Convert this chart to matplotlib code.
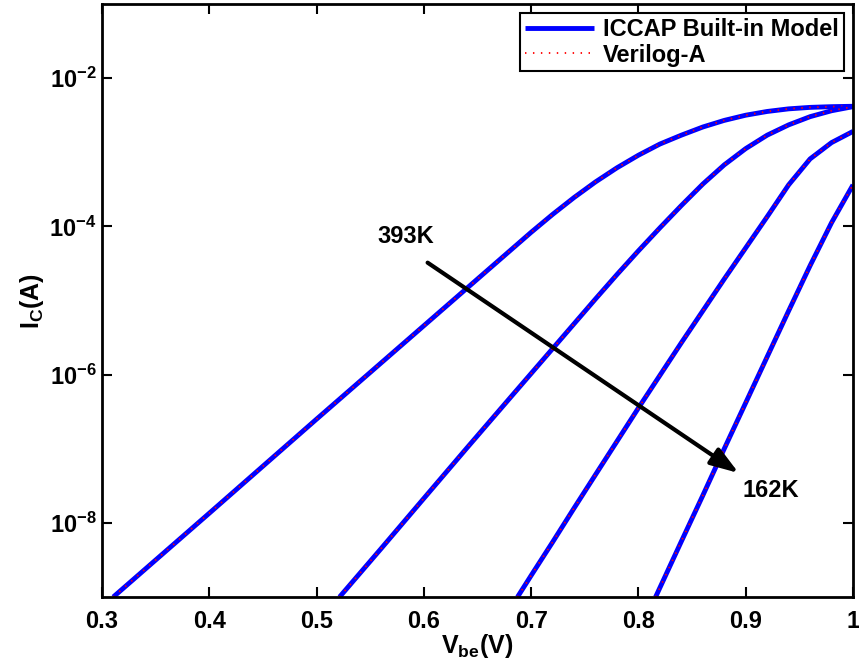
import numpy as np
import matplotlib.pyplot as plt

plt.rcParams['font.family'] = ['Liberation Sans', 'DejaVu Sans']
plt.rcParams['font.weight'] = 'bold'
plt.rcParams['mathtext.fontset'] = 'custom'
plt.rcParams['mathtext.rm'] = 'Liberation Sans:bold'
plt.rcParams['mathtext.it'] = 'Liberation Sans:bold'
plt.rcParams['mathtext.bf'] = 'Liberation Sans:bold'

# Gummel curves, Ic vs Vbe at four temperatures (393K down to 162K)
vbe_393 = [0.3105, 0.40, 0.50, 0.60, 0.65, 0.70, 0.72, 0.74, 0.76, 0.78, 0.80,
           0.82, 0.84, 0.86, 0.88, 0.90, 0.92, 0.94, 0.96, 0.98, 1.00]
ic_393 = [1.0e-9, 1.35e-8, 2.51e-7, 4.57e-6, 1.95e-5, 8.32e-5, 1.45e-4, 2.45e-4,
          3.98e-4, 6.17e-4, 9.12e-4, 1.29e-3, 1.70e-3, 2.19e-3, 2.69e-3, 3.16e-3,
          3.55e-3, 3.85e-3, 4.03e-3, 4.12e-3, 4.17e-3]

vbe_300 = [0.5214, 0.56, 0.60, 0.64, 0.68, 0.72, 0.76, 0.78, 0.80, 0.82, 0.84,
           0.86, 0.88, 0.90, 0.92, 0.94, 0.96, 0.98, 1.00]
ic_300 = [1.0e-9, 4.47e-9, 2.14e-8, 1.02e-7, 4.79e-7, 2.24e-6, 1.05e-5, 2.24e-5,
          4.68e-5, 9.55e-5, 1.91e-4, 3.72e-4, 6.76e-4, 1.12e-3, 1.70e-3, 2.34e-3,
          3.02e-3, 3.63e-3, 4.12e-3]

vbe_230 = [0.6873, 0.70, 0.72, 0.74, 0.76, 0.78, 0.80, 0.82, 0.84, 0.86, 0.88,
           0.90, 0.92, 0.94, 0.96, 0.98, 1.00]
ic_230 = [1.0e-9, 1.95e-9, 5.50e-9, 1.58e-8, 4.47e-8, 1.26e-7, 3.55e-7, 9.77e-7,
          2.69e-6, 7.24e-6, 1.95e-5, 5.13e-5, 1.35e-4, 3.63e-4, 8.13e-4, 1.35e-3,
          1.91e-3]

vbe_162 = [0.816, 0.84, 0.86, 0.88, 0.90, 0.92, 0.94, 0.96, 0.98, 1.00]
ic_162 = [1.0e-9, 5.62e-9, 2.34e-8, 1.0e-7, 4.17e-7, 1.74e-6, 7.24e-6, 2.95e-5,
          1.12e-4, 3.63e-4]

curves = [(vbe_393, ic_393), (vbe_300, ic_300), (vbe_230, ic_230), (vbe_162, ic_162)]

x_ticks = [0.3, 0.4, 0.5, 0.6, 0.7, 0.8, 0.9, 1.0]
x_ticklabels = ['0.3', '0.4', '0.5', '0.6', '0.7', '0.8', '0.9', '1']
y_ticks = [1e-8, 1e-6, 1e-4, 1e-2]

fig = plt.figure(figsize=(8.59, 6.65), dpi=100)
ax = fig.add_axes([102 / 859, 1 - 597 / 665, 751 / 859, 593 / 665])

for i, (v, ic) in enumerate(curves):
    ax.semilogy(v, ic, color='b', lw=3.5, solid_capstyle='butt',
                label='ICCAP Built-in Model' if i == 0 else None)
    ax.semilogy(v, ic, color='r', lw=1.3, linestyle=(0, (0.8, 3.6)),
                label='Verilog-A' if i == 0 else None)

ax.set_xlim(0.3, 1.0)
ax.set_ylim(1e-9, 1e-1)
ax.set_xticks(x_ticks)
ax.set_xticklabels(x_ticklabels)
ax.set_yticks(y_ticks)
ax.minorticks_off()
ax.tick_params(which='both', direction='in', top=True, right=True, length=7,
               width=1.5, labelsize=17)
ax.tick_params(axis='x', pad=9)
ax.tick_params(axis='y', pad=4)
for s in ax.spines.values():
    s.set_linewidth(2)

ax.set_xlabel(r'$\mathbf{V_{be}(V)}$', fontsize=18, labelpad=0)
ax.set_ylabel(r'$\mathbf{I_C(A)}$', fontsize=18, labelpad=2)

# temperature arrow
ax.annotate('', xy=(0.8935, 4.7e-8), xytext=(0.6035, 3.24e-5),
            arrowprops=dict(arrowstyle='-|>,head_length=0.85,head_width=0.29',
                            mutation_scale=20, lw=3, color='k',
                            shrinkA=0, shrinkB=0))
ax.text(0.5835, 7.2e-5, '393K', fontsize=17, fontweight='bold', ha='center', va='center')
ax.text(0.923, 2.75e-8, '162K', fontsize=17, fontweight='bold', ha='center', va='center')

leg = ax.legend(loc='upper right', fontsize=17, fancybox=False, framealpha=1,
                edgecolor='k', handlelength=2.9, borderaxespad=0.4,
                borderpad=0.2, labelspacing=0.1, handletextpad=0.4)
leg.get_frame().set_linewidth(1.5)

fig.savefig('out.png', dpi=100)
